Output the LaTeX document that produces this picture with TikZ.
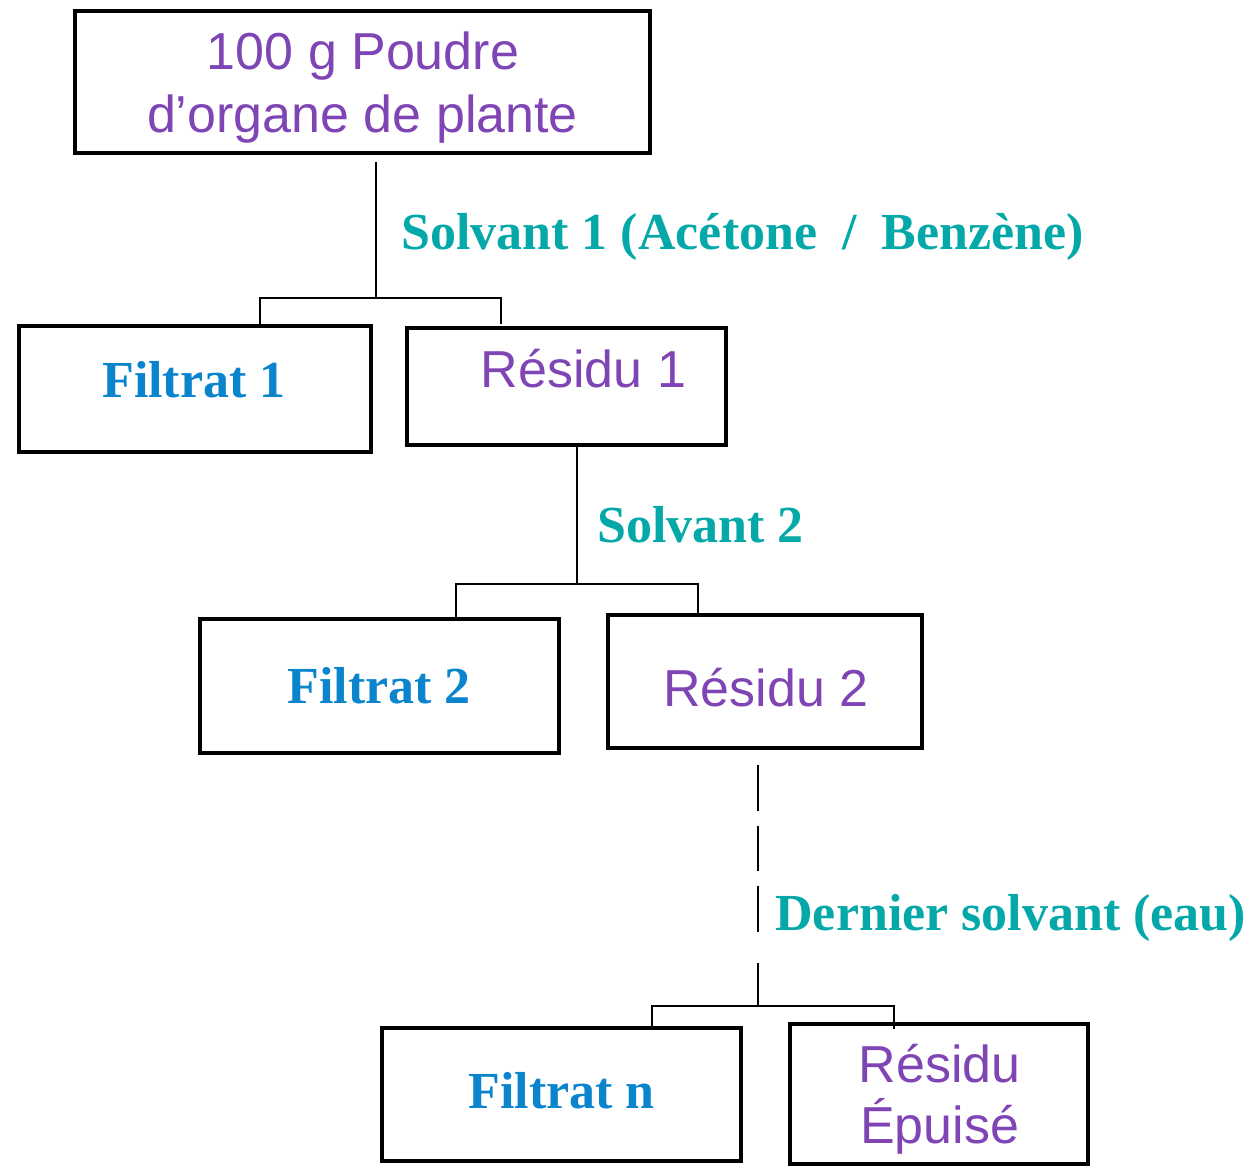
\documentclass[tikz,border=0pt]{standalone}
\usepackage{fontspec}
\setmainfont{Liberation Serif}
\newfontfamily\sansf{Liberation Sans}
\definecolor{purp}{HTML}{7F45B5}
\definecolor{tealc}{HTML}{05A8A8}
\definecolor{bluec}{HTML}{0A84CC}
\begin{document}
\begin{tikzpicture}[x=0.02cm,y=-0.02cm,
  box/.style={draw,line width=0.085cm,rectangle,inner sep=0pt},
  conn/.style={line width=0.04cm},
  ptxt/.style={text=purp,font=\sansf\fontsize{29.6}{35}\selectfont,anchor=base,inner sep=0pt},
  btxt/.style={text=bluec,font=\bfseries\fontsize{29.6}{35}\selectfont,anchor=base,inner sep=0pt},
  ttxt/.style={text=tealc,font=\bfseries\fontsize{29.6}{35}\selectfont,anchor=base west,inner sep=0pt}]
\useasboundingbox (0,0) rectangle (1256,1168);
% boxes
\node[box,minimum width=11.5cm,minimum height=2.84cm] (top) at (362.5,82) {};
\node[box,minimum width=7.04cm,minimum height=2.52cm] (f1) at (195,389) {};
\node[box,minimum width=6.38cm,minimum height=2.34cm] (r1) at (566.5,386.5) {};
\node[box,minimum width=7.18cm,minimum height=2.68cm] (f2) at (379.5,686) {};
\node[box,minimum width=6.28cm,minimum height=2.66cm] (r2) at (765,681.5) {};
\node[box,minimum width=7.18cm,minimum height=2.66cm] (fn) at (561.5,1094.5) {};
\node[box,minimum width=5.96cm,minimum height=2.8cm] (re) at (939,1094) {};
% texts
\node[ptxt] (t0a) at (363,70) {100 g Poudre};
\node[ptxt] (t0b) at (362.5,133) {d’organe de plante};
\node[btxt] (tf1) at (194,398) {Filtrat 1};
\node[ptxt] (tr1) at (583.5,388) {Résidu 1};
\node[btxt] (tf2) at (379,703) {Filtrat 2};
\node[ptxt] (tr2) at (766,706) {Résidu 2};
\node[btxt] (tfn) at (561.5,1108) {Filtrat n};
\node[ptxt] (tre1) at (939.5,1082) {Résidu};
\node[ptxt] (tre2) at (939.5,1143) {Épuisé};
% labels
\node[ttxt] (l1) at (401,250) {Solvant 1 (Acétone\hspace{0.5cm}/\hspace{0.5cm}Benzène)};
\node[ttxt] (l2) at (597,542) {Solvant 2};
\node[ttxt] (l3) at (775,930) {Dernier solvant (eau)};
% connectors
\coordinate (s1) at (376,298);
\coordinate (s1a) at (376,162);
\coordinate (b1L) at (260,298);
\coordinate (b1R) at (501,298);
\draw[conn] (s1a) -- (s1);
\draw[conn] (f1.north -| b1L) -- (b1L) -- (b1R) -- ([yshift=0.04cm]r1.north -| b1R);
\coordinate (s2) at (577,584);
\coordinate (b2L) at (456,584);
\coordinate (b2R) at (698,584);
\draw[conn] (r1.south -| s2) -- (s2);
\draw[conn] (f2.north -| b2L) -- (b2L) -- (b2R) -- (r2.north -| b2R);
\coordinate (s3) at (758,1006);
\coordinate (s3a) at (758,765);
\coordinate (b3L) at (652,1006);
\coordinate (b3R) at (894,1006);
\draw[conn,dash pattern=on 0.92cm off 0.3cm on 0.9cm off 0.3cm on 0.92cm off 0.62cm on 1cm] (s3a) -- (s3);
\draw[conn] ([yshift=-0.06cm]fn.north -| b3L) -- (b3L) -- (b3R) -- ([yshift=-0.14cm]re.north -| b3R);
\end{tikzpicture}
\end{document}
